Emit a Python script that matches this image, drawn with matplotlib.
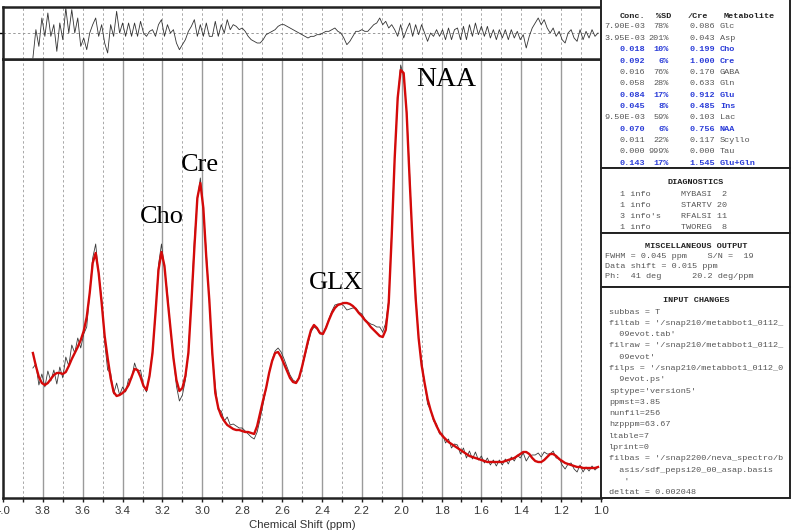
import numpy as np
import matplotlib
matplotlib.use("Agg")
import matplotlib.pyplot as plt
from matplotlib.ticker import MultipleLocator, FormatStrFormatter
from matplotlib.patches import Rectangle

# ---------------- data (arbitrary intensity units) ----------------
ppm_start = 3.85
ppm_step = 0.015

# LCModel fit (red), one value per sample, 10 samples per row
fit = [
    145, 132, 121, 115, 113, 115, 119, 123, 125, 125,   # 3.850 ..
    124, 126, 132, 139, 145, 151, 158, 167, 181, 205,   # 3.700 ..
    235, 245, 225, 195, 162, 140, 120, 106, 102, 103,   # 3.550 ..
    105, 108, 113, 121, 129, 128, 121, 112, 108, 122,   # 3.400 ..
    145, 185, 228, 246, 232, 200, 170, 140, 118, 107,   # 3.250 ..
    110, 122, 145, 195, 250, 300, 315, 290, 240, 198,   # 3.100 ..
    145, 105, 90, 82, 77, 73, 71, 69, 68, 68,           # 2.950 ..
    67, 66, 66, 65, 64, 72, 85, 98, 110, 125,           # 2.800 ..
    137, 145, 146, 141, 134, 127, 120, 116, 115, 120,   # 2.650 ..
    131, 144, 157, 168, 173, 170, 165, 164, 170, 178,   # 2.500 ..
    185, 190, 193, 194, 195, 195, 194, 192, 189, 185,   # 2.350 ..
    182, 178, 175, 171, 168, 165, 162, 161, 168, 195,   # 2.200 ..
    262, 340, 400, 428, 425, 385, 318, 255, 200, 160,   # 2.050 ..
    133, 115, 99, 88, 79, 72, 66, 62, 59, 56,           # 1.900 ..
    54, 52, 50, 48, 46, 44, 42, 41, 40, 39,             # 1.750 ..
    38, 37, 36, 36, 36, 36, 36, 36, 37, 38,             # 1.600 ..
    39, 40, 42, 44, 46, 46, 44, 40, 37, 36,             # 1.450 ..
    36, 38, 41, 44, 44, 42, 39, 37, 35, 34,             # 1.300 ..
    33, 32, 31, 31, 30, 30, 30, 30, 30, 31,             # 1.150 ..
]

# residual (data - fit), same samples, same units
residual = [
    -15, 2, -8, 9, -2, 12, -2, 5, -11, 6,
    -4, 15, 0, 14, 0, 9, -8, -3, -10, 0,
    5, 9, -2, 5, -6, -12, 5, -2, 13, 0,
    6, -2, 6, -2, 6, -2, 7, 0, -2, 1,
    2, -2, 5, 8, -2, 5, 0, 2, -6, -10,
    -7, -4, 1, 4, 8, -2, 5, -2, 6, -2,
    -2, 7, -2, 5, 0, 8, 2, 5, 4, 2,
    3, 1, -2, -4, -5, -6, -6, -4, -1, 0,
    1, 2, 4, 5, 5, 4, 3, 2, 1, 0,
    -1, -2, -3, -2, -2, -1, -1, 0, 1, 1,
    2, 3, 1, 0, -3, -7, -5, -2, 1, 1,
    2, 1, 1, 3, 5, 6, 9, 5, 7, 3,
    5, 2, -2, 5, -3, 2, 6, -2, 5, -1,
    5, 0, -5, 0, -2, 2, -2, 2, -4, 3,
    -4, 2, 3, -4, 4, -4, 5, -2, 6, -1,
    4, -2, 4, -3, 2, -4, 2, -3, 2, -4,
    2, -3, 1, -4, -1, -9, -2, 3, 6, 9,
    5, 8, 3, 0, 3, -2, 1, -4, -6, 0,
    2, -3, -5, 2, -4, 1, -3, 2, -2, 0,
]

peak_names = ["Cho", "Cre", "GLX", "NAA"]

conc = ["7.90E-03", "3.95E-03", "0.018", "0.092", "0.016", "0.058", "0.084",
        "0.045", "9.50E-03", "0.070", "0.011", "0.000", "0.143"]
sd = ["78%", "201%", "10%", "6%", "76%", "28%", "17%", "8%", "59%", "6%",
      "22%", "999%", "17%"]
ratio = ["0.086", "0.043", "0.199", "1.000", "0.170", "0.633", "0.912",
         "0.485", "0.103", "0.756", "0.117", "0.000", "1.545"]
metab = ["Glc", "Asp", "Cho", "Cre", "GABA", "Gln", "Glu", "Ins", "Lac",
         "NAA", "Scyllo", "Tau", "Glu+Gln"]
highlight = [False, False, True, True, False, False, True, True, False,
             True, False, False, True]

diag_count = ["1 info", "1 info", "3 info's", "1 info"]
diag_code = ["MYBASI  2", "STARTV 20", "RFALSI 11", "TWOREG  8"]

misc_lines = ["FWHM = 0.045 ppm    S/N =  19",
              "Data shift = 0.015 ppm",
              "Ph:  41 deg      20.2 deg/ppm"]

input_lines = ["subbas = T",
               "filtab = '/snap210/metabbot1_0112_",
               "  09evot.tab'",
               "filraw = '/snap210/metabbot1_0112_",
               "  09evot'",
               "filps = '/snap210/metabbot1_0112_0",
               "  9evot.ps'",
               "sptype='version5'",
               "ppmst=3.85",
               "nunfil=256",
               "hzpppm=63.67",
               "ltable=7",
               "lprint=0",
               "filbas = '/snap2200/neva_spectro/b",
               "  asis/sdf_pepsi20_00_asap.basis",
               "   '",
               "deltat = 0.002048"]

# ---------------- figure ----------------
W, H = 796, 532
fig = plt.figure(figsize=(W / 100, H / 100), dpi=100)


def fx(x):
    return x / W


def fy(y):
    return 1 - y / H


ppm = ppm_start - ppm_step * np.arange(len(fit))
fit_a = np.array(fit, dtype=float)
res_a = np.array(residual, dtype=float)
data = fit_a + res_a

ax = fig.add_axes([fx(3), fy(498), (601 - 3) / W, (498 - 59) / H])
axr = fig.add_axes([fx(3), fy(59), (601 - 3) / W, (59 - 7) / H])

GRID = "#9a9a9a"
for a in (ax, axr):
    a.set_xlim(4.0, 1.0)
    a.xaxis.set_major_locator(MultipleLocator(0.2))
    a.xaxis.set_minor_locator(MultipleLocator(0.1))
    a.spines["right"].set_visible(False)
    a.set_yticks([])
    a.set_axisbelow(True)

ax.grid(which="major", axis="x", color=GRID, lw=1.0, ls="-")
ax.grid(which="minor", axis="x", color="#a8a8a8", lw=0.7, ls=(0, (2.5, 2.5)))
axr.grid(which="both", axis="x", color="#a8a8a8", lw=0.7, ls=(0, (2.5, 2.5)))

ax.set_ylim(0, 439)
axr.set_ylim(-15.6, 15.6)   # residual panel is magnified

ax.plot(ppm, data, color="#3a3a3a", lw=0.6, zorder=3)
ax.plot(ppm, fit_a, color="#d40a0a", lw=1.7, zorder=4)
axr.plot(ppm, res_a, color="#333333", lw=0.6, zorder=3, clip_on=True)
axr.axhline(0, color="#999999", lw=0.7, ls=(0, (2.5, 2.5)), zorder=1)

for s in ("left", "top", "bottom"):
    for a in (ax, axr):
        a.spines[s].set_linewidth(1.8)
        a.spines[s].set_color("#222222")

ax.xaxis.set_major_formatter(FormatStrFormatter("%.1f"))
ax.tick_params(axis="x", which="both", direction="out", length=3, width=1.0,
               color="#222222", labelsize=8.2, labelcolor="#333333", pad=3)
for lab in ax.get_xticklabels():
    lab.set_fontfamily("Liberation Sans")
ax.set_xlabel("Chemical Shift (ppm)", fontsize=8.2, family="Liberation Sans",
              color="#333333", labelpad=3)
axr.tick_params(axis="x", which="both", length=0, labelbottom=False)
axr.set_yticks([0])
axr.tick_params(axis="y", direction="out", length=3, width=1.0, labelleft=False)

serif = "Liberation Serif"
ax.text(3.205, 281, peak_names[0], fontsize=19, family=serif, ha="center", va="center")
ax.text(3.01, 333, peak_names[1], fontsize=19, family=serif, ha="center", va="center")
ax.text(2.33, 215, peak_names[2], fontsize=19, family=serif, ha="center", va="center")
ax.text(1.775, 418, peak_names[3], fontsize=20, family=serif, ha="center", va="center")

# ---------------- right-hand table ----------------
axt = fig.add_axes([0, 0, 1, 1], zorder=10)
axt.set_xlim(0, W)
axt.set_ylim(H, 0)
axt.axis("off")
axt.patch.set_alpha(0)

for (y0, y1) in [(-3, 168), (168, 233), (233, 287), (287, 498)]:
    axt.add_patch(Rectangle((601, y0), 790 - 601, y1 - y0, facecolor="white",
                            edgecolor="#222222", lw=1.4, zorder=1))

mono = "Liberation Mono"
FS = 6.1
GRAY = "#555555"
BLUE = "#2a3cd8"

for txt, x in [("Conc.", 620), ("%SD", 656), ("/Cre", 688), ("Metabolite", 724)]:
    axt.text(x, 16, txt, family=mono, fontsize=FS, fontweight="bold",
             color="#222222", ha="left", va="center", zorder=2)

row_y0 = 27
row_dy = 11.35
for i in range(len(metab)):
    y = row_y0 + i * row_dy
    col = BLUE if highlight[i] else GRAY
    fw = "bold" if highlight[i] else "normal"
    axt.text(645, y, conc[i], family=mono, fontsize=FS, color=col,
             fontweight=fw, ha="right", va="center", zorder=2)
    axt.text(669, y, sd[i], family=mono, fontsize=FS, color=col,
             fontweight=fw, ha="right", va="center", zorder=2)
    axt.text(689, y, ratio[i], family=mono, fontsize=FS, color=col,
             fontweight=fw, ha="left", va="center", zorder=2)
    axt.text(720, y, metab[i], family=mono, fontsize=FS, color=col,
             fontweight=fw, ha="left", va="center", zorder=2)

axt.text(696, 182, "DIAGNOSTICS", family=mono, fontsize=FS, fontweight="bold",
         color="#222222", ha="center", va="center", zorder=2)
for i in range(len(diag_count)):
    y = 194 + i * 11.2
    axt.text(620, y, diag_count[i], family=mono, fontsize=FS, color=GRAY,
             ha="left", va="center", zorder=2)
    axt.text(681, y, diag_code[i], family=mono, fontsize=FS, color=GRAY,
             ha="left", va="center", zorder=2)

axt.text(696, 246, "MISCELLANEOUS OUTPUT", family=mono, fontsize=FS,
         fontweight="bold", color="#222222", ha="center", va="center", zorder=2)
for i, line in enumerate(misc_lines):
    axt.text(605, 256 + i * 10.2, line, family=mono, fontsize=FS, color=GRAY,
             ha="left", va="center", zorder=2)

axt.text(696, 301, "INPUT CHANGES", family=mono, fontsize=FS,
         fontweight="bold", color="#222222", ha="center", va="center", zorder=2)
for i, line in enumerate(input_lines):
    axt.text(609, 312 + i * 11.3, line, family=mono, fontsize=FS, color=GRAY,
             ha="left", va="center", zorder=2)

fig.savefig("out.png", dpi=100)
